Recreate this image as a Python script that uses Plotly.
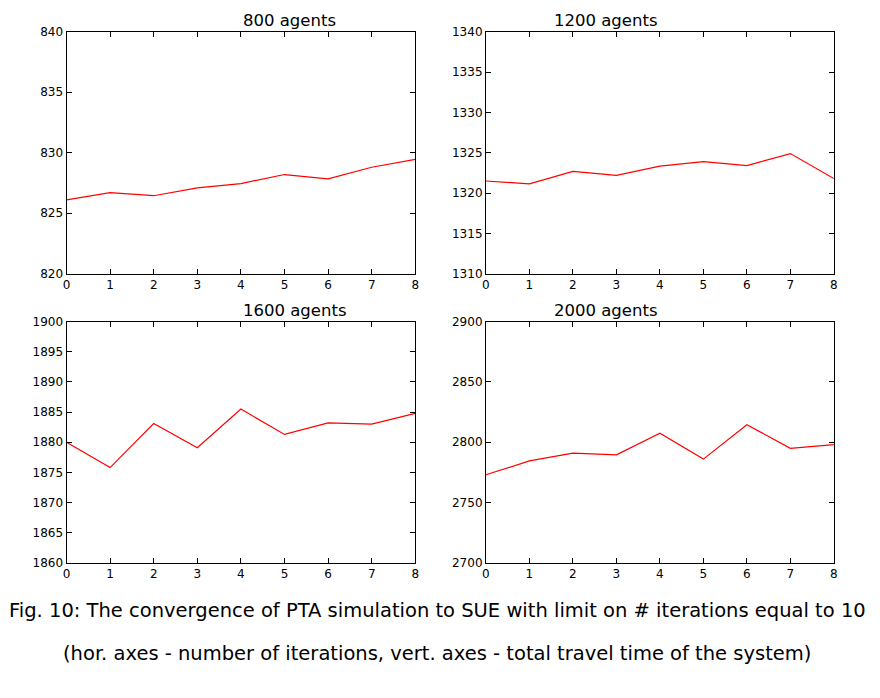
import plotly.graph_objects as go

iters = [0, 1, 2, 3, 4, 5, 6, 7, 8]
titles = ["800 agents", "1200 agents", "1600 agents", "2000 agents"]
tt_800 = [826.1, 826.7, 826.45, 827.1, 827.45, 828.2, 827.85, 828.8, 829.45]
tt_1200 = [1321.5, 1321.15, 1322.7, 1322.2, 1323.35, 1323.9, 1323.4, 1324.9, 1321.8]
tt_1600 = [1880.0, 1875.8, 1883.1, 1879.1, 1885.5, 1881.3, 1883.2, 1883.0, 1884.8]
tt_2000 = [2773, 2784.5, 2791, 2789.5, 2807.5, 2786, 2814.5, 2795, 2798]
yranges = [[820, 840], [1310, 1340], [1860, 1900], [2700, 2900]]
ydticks = [5, 5, 5, 50]

series = [tt_800, tt_1200, tt_1600, tt_2000]
# the page puts the figure a few px right/down, so shift the domains back
dx = 11 / 880
dy = 13 / 698
xdom = [[0.075 - dx, 0.475 - dx], [0.556 - dx, 0.955 - dx]]
ydom = [[0.603 + dy, 0.957 + dy], [0.1805 + dy, 0.533 + dy]]

fig = go.Figure()
for i, vals in enumerate(series):
    n = "" if i == 0 else str(i + 1)
    fig.add_trace(go.Scatter(x=iters, y=vals, mode="lines", line=dict(color="red", width=1.2),
                             xaxis="x" + n, yaxis="y" + n, showlegend=False))
    ax = dict(showline=True, linecolor="black", linewidth=1, mirror="allticks", ticks="inside",
              ticklen=5, tickcolor="black", showgrid=False, zeroline=False,
              tickfont=dict(size=12, color="black"))
    fig.layout["xaxis" + n] = dict(ax, domain=xdom[i % 2], range=[0, 8], dtick=1, anchor="y" + n)
    fig.layout["yaxis" + n] = dict(ax, domain=ydom[i // 2], range=yranges[i], dtick=ydticks[i],
                                   anchor="x" + n)
    fig.add_annotation(text=titles[i], x=sum(xdom[i % 2]) / 2, y=ydom[i // 2][1], xref="paper",
                       yref="paper", yanchor="bottom", showarrow=False, font=dict(size=16.5, color="black"))

fig.add_annotation(text="Fig. 10: The convergence of PTA simulation to SUE with limit on # iterations equal to 10",
                   x=0.5 - dx, y=1 - 634 / 698 + dy, xref="paper", yref="paper", showarrow=False,
                   font=dict(size=19.5, color="black"))
fig.add_annotation(text="(hor. axes - number of iterations, vert. axes - total travel time of the system)",
                   x=0.5 - dx, y=1 - 678 / 698 + dy, xref="paper", yref="paper", showarrow=False,
                   font=dict(size=19.5, color="black"))

fig.update_layout(width=880, height=698, margin=dict(l=0, r=0, t=0, b=0),
                  plot_bgcolor="white", paper_bgcolor="white",
                  font=dict(family="DejaVu Sans", color="black"))
fig.write_html("out.html")
